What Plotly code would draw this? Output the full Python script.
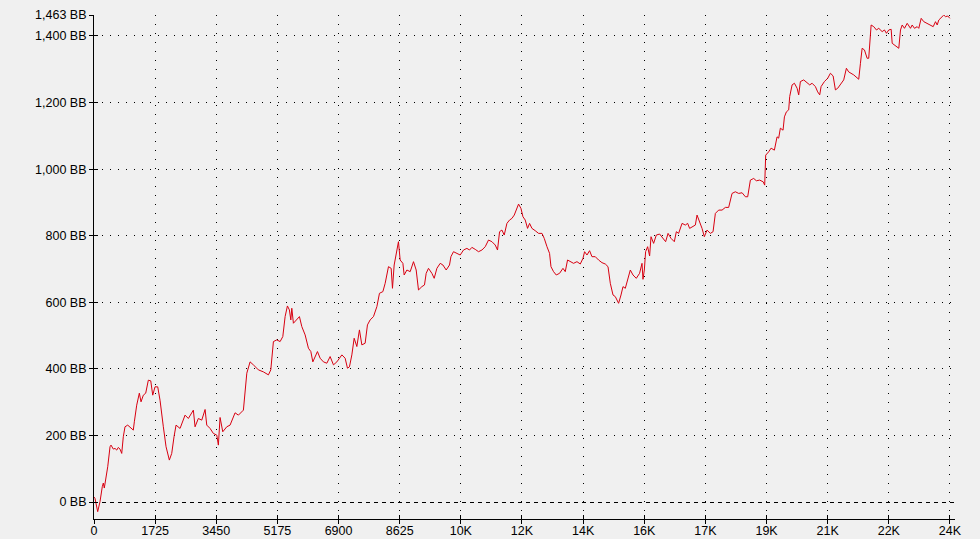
import plotly.graph_objects as go

# cumulative winnings (hands played vs big blinds won)
hands = [0, 28, 104, 169, 234, 263, 291, 330, 387, 452, 480, 545, 593, 641, 686, 734, 782, 827, 875, 951,
         1064, 1109, 1138, 1205, 1279, 1327, 1392, 1459, 1533, 1601, 1657, 1722, 1798, 1863, 1956, 2033, 2126,
         2193, 2258, 2315, 2428, 2569, 2662, 2803, 2851, 2944, 3040, 3134, 3181, 3275, 3368, 3464, 3509, 3557,
         3633, 3746, 3839, 3980, 4074, 4215, 4311, 4404, 4497, 4638, 4779, 4921, 4988, 5062, 5158, 5251, 5327,
         5392, 5457, 5513, 5553, 5581, 5626, 5702, 5796, 5863, 5957, 6050, 6118, 6174, 6239, 6304, 6380, 6473,
         6569, 6662, 6756, 6852, 6993, 7086, 7151, 7207, 7275, 7340, 7416, 7489, 7557, 7650, 7715, 7791, 7885,
         7981, 8054, 8150, 8215, 8308, 8384, 8421, 8469, 8545, 8590, 8638, 8715, 8751, 8828, 8921, 9014, 9090,
         9155, 9251, 9324, 9372, 9437, 9533, 9598, 9674, 9768, 9844, 9937, 10030, 10070, 10143, 10239, 10332,
         10425, 10521, 10595, 10662, 10756, 10849, 10945, 11038, 11131, 11227, 11320, 11385, 11442, 11509,
         11574, 11650, 11724, 11791, 11857, 11933, 11978, 12046, 12102, 12167, 12232, 12289, 12356, 12449,
         12543, 12639, 12703, 12780, 12853, 12893, 12966, 13042, 13135, 13231, 13296, 13361, 13437, 13530,
         13626, 13720, 13796, 13841, 13909, 13982, 14050, 14143, 14236, 14332, 14426, 14502, 14567, 14643,
         14708, 14801, 14869, 14925, 14990, 15055, 15131, 15207, 15300, 15393, 15461, 15489, 15527, 15563,
         15620, 15676, 15716, 15789, 15865, 15958, 16054, 16128, 16196, 16280, 16373, 16430, 16495, 16591,
         16684, 16749, 16805, 16901, 16966, 17014, 17087, 17155, 17220, 17296, 17389, 17466, 17531, 17624,
         17720, 17813, 17906, 18002, 18095, 18189, 18285, 18378, 18443, 18519, 18612, 18688, 18782, 18878,
         18923, 18951, 19035, 19103, 19196, 19272, 19317, 19365, 19441, 19479, 19535, 19600, 19628, 19696,
         19761, 19837, 19882, 19930, 20023, 20119, 20193, 20260, 20353, 20418, 20475, 20514, 20607, 20701,
         20777, 20853, 20918, 20983, 21059, 21152, 21228, 21293, 21435, 21576, 21624, 21672, 21737, 21813,
         21858, 21926, 21999, 22076, 22141, 22237, 22302, 22358, 22423, 22491, 22520, 22584, 22661, 22706,
         22754, 22802, 22867, 22943, 23036, 23084, 23149, 23225, 23270, 23338, 23411, 23507, 23600, 23677,
         23742, 23790, 23835, 23883, 23931, 23976, 24024, 24089, 24146]

winnings_bb = [15, 11, -29, 1, 46, 57, 42, 66, 106, 166, 171, 159, 161, 156, 164, 159, 146, 196, 226, 231,
               221, 216, 241, 291, 327, 301, 321, 327, 366, 364, 321, 346, 346, 306, 226, 166, 126,
               146, 196, 231, 221, 261, 251, 276, 226, 251, 246, 278, 231, 221, 206, 201, 171, 254,
               211, 226, 231, 268, 261, 276, 387, 421, 412, 397, 391, 382, 397, 482, 487, 482, 497,
               557, 589, 577, 547, 582, 537, 547, 557, 527, 502, 462, 452, 421, 437, 452, 432, 421,
               417, 437, 412, 421, 442, 432, 402, 406, 442, 492, 467, 517, 472, 477, 532, 547, 557,
               587, 627, 632, 657, 707, 702, 642, 712, 757, 782, 727, 717, 682, 697, 692, 722, 697,
               637, 647, 652, 687, 702, 687, 672, 702, 717, 712, 697, 712, 737, 752, 747, 742,
               757, 762, 757, 765, 759, 752, 757, 767, 787, 782, 772, 757, 812, 817,
               802, 837, 847, 852, 862, 882, 895, 882, 857, 847, 822, 837, 822, 815,
               807, 807, 792, 767, 747, 707, 692, 682, 687, 702, 692, 727, 722, 717,
               722, 715, 732, 752, 742, 755, 737, 737, 727, 719, 715, 707, 657, 622,
               617, 597, 622, 647, 642, 667, 697, 682, 672, 687, 717, 669, 697, 752,
               767, 739, 797, 777, 802, 805, 792, 782, 807, 792, 782, 812, 807, 837,
               832, 837, 822, 827, 832, 862, 842, 822, 797, 817, 807, 812, 867, 877,
               877, 885, 885, 927, 932, 927, 929, 917, 917, 967, 972, 965, 967, 962,
               952, 1042, 1052, 1063, 1057, 1097, 1093, 1123, 1117, 1157, 1172, 1178, 1218, 1253,
               1258, 1243, 1223, 1263, 1268, 1258, 1253, 1258, 1248, 1232, 1223, 1248, 1263, 1273,
               1288, 1280, 1238, 1243, 1253, 1268, 1303, 1292, 1283, 1270, 1318, 1363, 1358, 1333,
               1333, 1433, 1428, 1418, 1423, 1413, 1418, 1408, 1418, 1420, 1378, 1373, 1368, 1363,
               1418, 1433, 1423, 1438, 1423, 1433, 1423, 1428, 1423, 1453, 1443, 1438, 1433, 1428,
               1443, 1433, 1448, 1453, 1458, 1463, 1458, 1460, 1453]

x_tickvals = [0, 1725, 3450, 5175, 6900, 8625, 10350, 12075, 13800, 15525, 17250, 18975, 20700, 22425, 24150]
x_ticktext = ["0", "1725", "3450", "5175", "6900", "8625", "10K", "12K", "14K", "16K", "17K", "19K", "21K", "22K", "24K"]
y_tickvals = [200, 400, 600, 800, 1000, 1200, 1400, 1463]
y_ticktext = ["200 BB", "400 BB", "600 BB", "800 BB", "1,000 BB", "1,200 BB", "1,400 BB", "1,463 BB"]
y_zero_val = [0]
y_zero_text = ["0 BB"]

X_RANGE = [0, 24292]
Y_RANGE = [-51, 1463]
BG = "#f0f0f0"
FONT = dict(family="Liberation Sans, Arial, sans-serif", size=12.5, color="black")

fig = go.Figure()
fig.add_trace(go.Scatter(x=hands, y=winnings_bb, mode="lines",
                         line=dict(color="#d80010", width=1), showlegend=False, hoverinfo="skip"))
# helper empty traces so the overlay axes get drawn
fig.add_trace(go.Scatter(x=[None], y=[None], xaxis="x2", yaxis="y", showlegend=False, hoverinfo="skip"))
fig.add_trace(go.Scatter(x=[None], y=[None], xaxis="x", yaxis="y2", showlegend=False, hoverinfo="skip"))
fig.add_trace(go.Scatter(x=[None], y=[None], xaxis="x", yaxis="y3", showlegend=False, hoverinfo="skip"))

fig.update_layout(
    width=980, height=539,
    margin=dict(l=94, r=25, t=15, b=20, autoexpand=False),
    paper_bgcolor=BG, plot_bgcolor=BG,
    font=FONT,
    xaxis=dict(range=X_RANGE, tickvals=x_tickvals, ticktext=x_ticktext, ticks="inside", ticklen=4,
               tickcolor="black", showline=True, linecolor="black", linewidth=1,
               showgrid=True, gridcolor="black", gridwidth=1, griddash="1px,8px",
               zeroline=False, tickfont=FONT, automargin=False),
    xaxis2=dict(range=X_RANGE, overlaying="x", anchor="y", side="bottom", tickvals=x_tickvals,
                ticks="outside", ticklen=4, tickcolor="black", showticklabels=False,
                showgrid=False, zeroline=False, showline=False, automargin=False),
    yaxis=dict(range=Y_RANGE, tickvals=y_tickvals, ticktext=y_ticktext, ticks="outside", ticklen=4,
               tickcolor="black", showline=True, linecolor="black", linewidth=1,
               showgrid=True, gridcolor="black", gridwidth=1, griddash="1px,7px",
               zeroline=False, tickfont=FONT, automargin=False),
    yaxis2=dict(range=Y_RANGE, overlaying="y", anchor="x", side="left", tickvals=y_zero_val,
                ticktext=y_zero_text, ticks="outside", ticklen=4, tickcolor="black",
                showgrid=True, gridcolor="black", gridwidth=1, griddash="4px,4px",
                zeroline=False, showline=False, tickfont=FONT, automargin=False),
    yaxis3=dict(range=Y_RANGE, overlaying="y", anchor="x", side="left",
                tickvals=y_zero_val + y_tickvals, ticks="inside", ticklen=4, tickcolor="black",
                showticklabels=False, showgrid=False, zeroline=False, showline=False, automargin=False),
)

fig.write_html("out.html", config={"displayModeBar": False},
               post_script="document.body.style.margin='0';document.body.style.padding='0';"
                           "document.body.style.background='%s';"
                           "document.documentElement.style.overflow='hidden';" % BG)
